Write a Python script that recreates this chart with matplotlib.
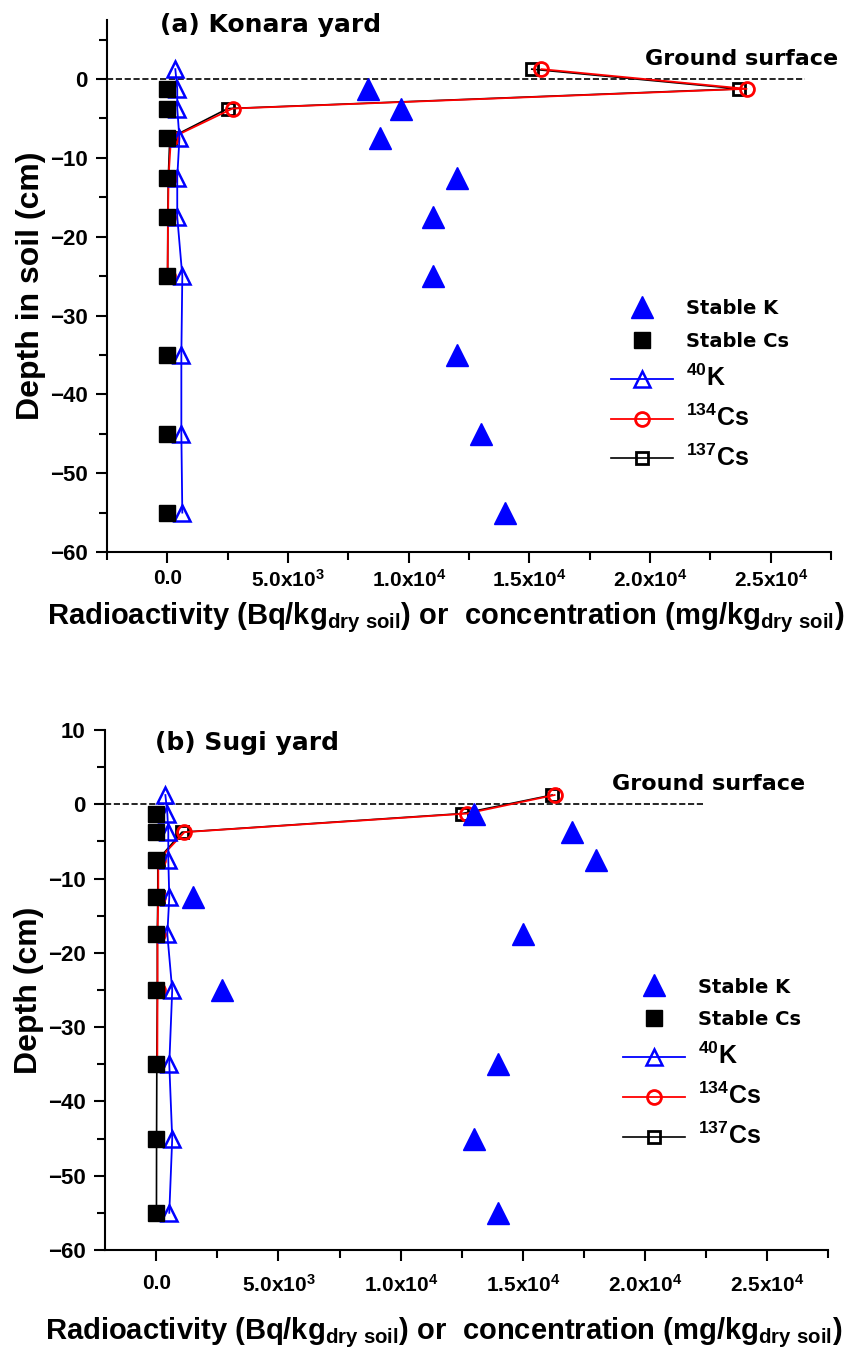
import matplotlib
matplotlib.use('Agg')
import matplotlib.pyplot as plt
from matplotlib.ticker import MultipleLocator

plt.rcParams['font.family'] = ['Liberation Sans', 'DejaVu Sans']
plt.rcParams['font.weight'] = 'bold'
plt.rcParams['mathtext.fontset'] = 'custom'
plt.rcParams['mathtext.rm'] = 'Liberation Sans:bold'
plt.rcParams['mathtext.it'] = 'Liberation Sans:bold'
plt.rcParams['mathtext.bf'] = 'Liberation Sans:bold'

# sampling depths (cm), first one is the litter layer above ground
depth = [1.25, -1.25, -3.75, -7.5, -12.5, -17.5, -25, -35, -45, -55]
depth_soil = depth[1:]

# (a) Konara yard
stable_k_a = [8300, 9700, 8800, 12000, 11000, 11000, 12000, 13000, 14000]
stable_cs_a = [5, 5, 5, 4, 4, 3, 3, 3, 3]
k40_a = [330, 410, 410, 500, 410, 410, 620, 580, 580, 620]
cs134_a = [15500, 24000, 2700, 150, 50, 30, 10]
cs137_a = [15100, 23700, 2500, 100, 40, 20, 10]

# (b) Sugi yard
stable_k_b = [13000, 17000, 18000, 1500, 15000, 2700, 14000, 13000, 14000]
stable_cs_b = [5, 5, 5, 4, 4, 3, 3, 3, 3]
k40_b = [370, 450, 490, 490, 530, 450, 650, 530, 650, 530]
cs134_b = [16300, 12700, 1150, 80, 80, 50, 50, 40]
cs137_b = [16200, 12500, 1050, 60, 60, 40, 40, 20, 10, 5]

xtick_vals = [0, 5000, 10000, 15000, 20000, 25000]
xtick_labels = ['0.0', '5.0x10$^3$', '1.0x10$^4$', '1.5x10$^4$', '2.0x10$^4$', '2.5x10$^4$']
ytick_vals = [0, -10, -20, -30, -40, -50, -60]

fig = plt.figure(figsize=(8.63, 13.61), dpi=100)
ax1 = fig.add_axes([0.124, 0.5944, 0.839, 0.391])
ax2 = fig.add_axes([0.1217, 0.0816, 0.838, 0.382])

xlab = 'Radioactivity (Bq/kg$_{\\mathregular{dry\\ soil}}$) or  concentration (mg/kg$_{\\mathregular{dry\\ soil}}$)'


def draw(ax, sk, scs, k40, c134, c137, title, ylabel, ylim, xlim, ground_end,
         gs_xy, leg_xy, yticks, xpad, xlab_y):
    ax.plot(xlim[0:1] + [ground_end], [0, 0], 'k--', lw=1.2, zorder=1)
    ax.plot(k40, depth, '-', color='blue', lw=1.3, marker='^', ms=12,
            mfc='none', mec='blue', mew=1.8, label='$^{40}$K', zorder=3)
    ax.plot(c134, depth[:len(c134)], '-', color='red', lw=1.3, marker='o', ms=10,
            mfc='none', mec='red', mew=2, label='$^{134}$Cs', zorder=2.5)
    ax.plot(c137, depth[:len(c137)], '-', color='black', lw=1.2, marker='s', ms=9,
            mfc='none', mec='black', mew=2, label='$^{137}$Cs', zorder=2)
    ax.plot(sk, depth_soil, '^', color='blue', ms=16, ls='none', label='Stable K', zorder=5)
    ax.plot(scs, depth_soil, 's', color='black', ms=11, ls='none', label='Stable Cs', zorder=4)

    ax.set_xlim(xlim)
    ax.set_ylim(ylim)
    ax.set_xticks(xtick_vals, xtick_labels)
    ax.xaxis.set_minor_locator(MultipleLocator(2500))
    ax.set_yticks(yticks)
    ax.yaxis.set_minor_locator(MultipleLocator(5))
    for s in ['top', 'right']:
        ax.spines[s].set_visible(False)
    for s in ['left', 'bottom']:
        ax.spines[s].set_linewidth(1.5)
    ax.tick_params(axis='both', which='both', direction='out', width=1.5)
    ax.tick_params(axis='both', which='major', length=8)
    ax.tick_params(axis='both', which='minor', length=6)
    ax.tick_params(axis='x', labelsize=15, pad=xpad)
    ax.tick_params(axis='y', labelsize=16, pad=6)

    ax.set_ylabel(ylabel, fontsize=23, fontweight='bold', labelpad=3)
    ax.set_xlabel(xlab, fontsize=21, fontweight='bold')
    ax.xaxis.set_label_coords(0.468, xlab_y)
    ax.text(*title[1], title[0], transform=ax.transAxes, fontsize=18,
            fontweight='bold', family='DejaVu Sans', ha='left', va='center')
    ax.text(gs_xy[0], gs_xy[1], 'Ground surface', fontsize=16, fontweight='bold',
            family='DejaVu Sans', ha='left', va='center')

    h, l = ax.get_legend_handles_labels()
    order = [3, 4, 0, 1, 2]
    leg = ax.legend([h[i] for i in order], [l[i] for i in order], loc='upper left',
                    bbox_to_anchor=leg_xy, frameon=False, handlelength=3.0,
                    labelspacing=0.65, handletextpad=0.6, fontsize=15)
    for i, t in enumerate(leg.get_texts()):
        if i < 2:
            t.set_family('DejaVu Sans')
            t.set_fontsize(14)
        else:
            t.set_fontsize(18)


draw(ax1, stable_k_a, stable_cs_a, k40_a, cs134_a, cs137_a,
     ('(a) Konara yard', (0.073, 0.99)), 'Depth in soil (cm)',
     (-60, 7.5), [-2500, 27500], 26400, (19800, 2.6), (0.67, 0.51), ytick_vals, 4, -0.09)
draw(ax2, stable_k_b, stable_cs_b, k40_b, cs134_b, cs137_b,
     ('(b) Sugi yard', (0.069, 0.975)), 'Depth (cm)',
     (-60, 10), [-2100, 27500], 22400, (18650, 2.7), (0.69, 0.56), [10] + ytick_vals, 9, -0.125)

fig.savefig('out.png', dpi=100)
